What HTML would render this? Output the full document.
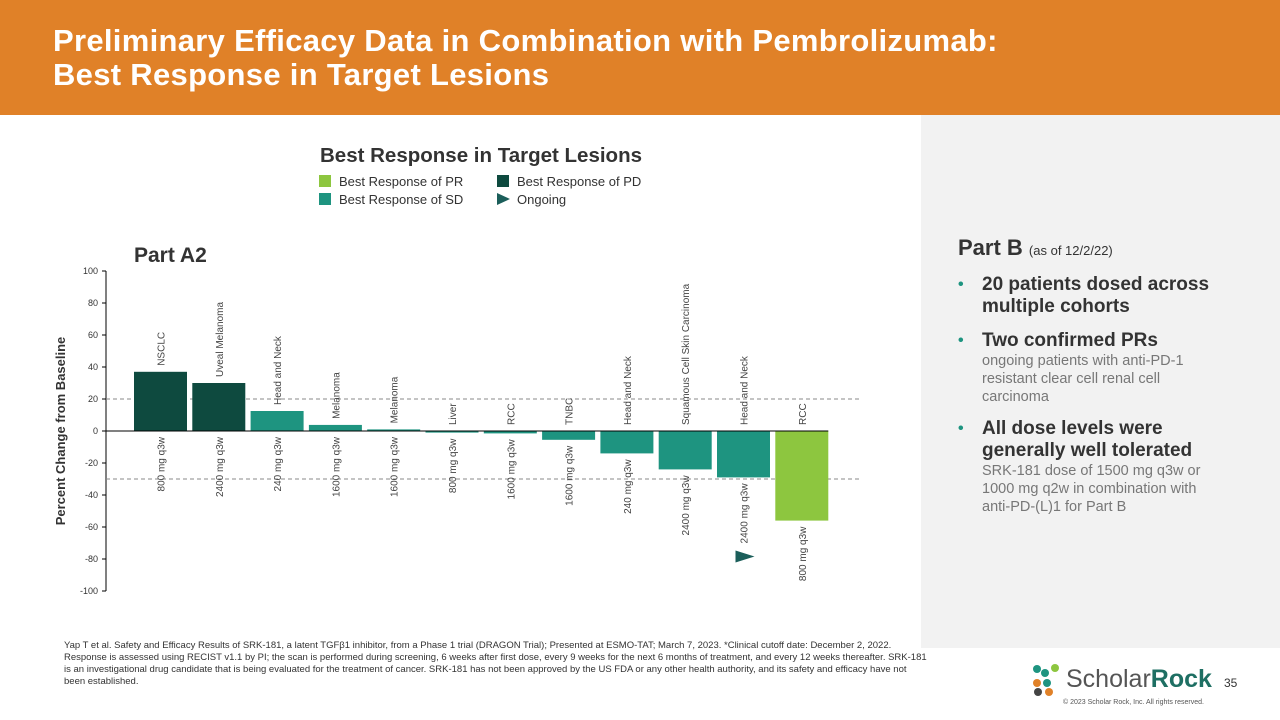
<!DOCTYPE html>
<html><head><meta charset="utf-8"><style>
body{margin:0;width:1280px;height:720px;overflow:hidden;background:#fff;font-family:"Liberation Sans",sans-serif;position:relative}
.hdr{position:absolute;left:0;top:0;width:1280px;height:115px;background:#e08128}
.hdr h1{position:absolute;left:53px;top:24px;margin:0;color:#fff;font-size:31px;line-height:34px;font-weight:bold;letter-spacing:0.3px}
.side{position:absolute;left:921px;top:115px;width:359px;height:533px;background:#f2f2f2}
.pb{position:absolute;left:958px;top:235px;font-size:22px;font-weight:bold;color:#333}
.pb span{font-size:13px;font-weight:normal}
ul{position:absolute;left:958px;top:274px;margin:0;padding:0;list-style:none;width:262px}
li{position:relative;padding-left:24px;margin-bottom:12px;color:#333;font-weight:bold;font-size:19px;line-height:22px}
li:before{content:"•";position:absolute;left:0;color:#1e9480;font-size:16px}
li small{display:block;font-weight:normal;font-size:14.5px;line-height:18px;color:#777}
.foot{position:absolute;left:64px;top:640px;width:866px;font-size:9.5px;line-height:12px;color:#333}
</style></head><body>
<div class="hdr"><h1>Preliminary Efficacy Data in Combination with Pembrolizumab:<br>Best Response in Target Lesions</h1></div>
<div class="side"></div>
<div class="pb">Part B <span>(as of 12/2/22)</span></div>
<ul>
<li>20 patients dosed across multiple cohorts</li>
<li>Two confirmed PRs<small>ongoing patients with anti-PD-1 resistant clear cell renal cell carcinoma</small></li>
<li>All dose levels were generally well tolerated<small>SRK-181 dose of 1500 mg q3w or 1000 mg q2w in combination with anti-PD-(L)1 for Part B</small></li>
</ul>
<svg id="chart" width="921" height="640" style="position:absolute;left:0;top:0" font-family="Liberation Sans, sans-serif">
<text x="481" y="162" text-anchor="middle" font-size="20.5" font-weight="bold" fill="#333">Best Response in Target Lesions</text>
<g font-size="13" fill="#333">
<rect x="319" y="175" width="12" height="12" fill="#8dc63f"/><text x="339" y="186">Best Response of PR</text>
<rect x="497" y="175" width="12" height="12" fill="#0e4a3f"/><text x="517" y="186">Best Response of PD</text>
<rect x="319" y="193" width="12" height="12" fill="#1e9480"/><text x="339" y="204">Best Response of SD</text>
<polygon points="497,193 510,199 497,205" fill="#1b5e5a"/><text x="517" y="204">Ongoing</text>
</g>
<text x="134" y="262" font-size="21" font-weight="bold" fill="#333">Part A2</text>
<text transform="translate(65,431) rotate(-90)" text-anchor="middle" font-size="13" font-weight="bold" fill="#333">Percent Change from Baseline</text>
<g id="g"></g>
</svg>
<div class="foot">Yap T et al. Safety and Efficacy Results of SRK-181, a latent TGFβ1 inhibitor, from a Phase 1 trial (DRAGON Trial); Presented at ESMO-TAT; March 7, 2023. *Clinical cutoff date: December 2, 2022. Response is assessed using RECIST v1.1 by PI; the scan is performed during screening, 6 weeks after first dose, every 9 weeks for the next 6 months of treatment, and every 12 weeks thereafter. SRK-181 is an investigational drug candidate that is being evaluated for the treatment of cancer. SRK-181 has not been approved by the US FDA or any other health authority, and its safety and efficacy have not been established.</div>
<svg width="30" height="34" style="position:absolute;left:1031px;top:663px">
<circle cx="6" cy="6" r="4" fill="#1e9480"/><circle cx="14" cy="10" r="4" fill="#1e9480"/><circle cx="24" cy="5" r="4" fill="#8dc63f"/><circle cx="6" cy="20" r="4" fill="#e08128"/><circle cx="16" cy="20" r="4" fill="#1e9480"/><circle cx="7" cy="29" r="4" fill="#444"/><circle cx="18" cy="29" r="4" fill="#e08128"/></svg>
<div style="position:absolute;left:1066px;top:665px;font-size:25px;color:#555">Scholar<b style="color:#1e6f63">Rock</b></div>
<div style="position:absolute;left:1224px;top:676px;font-size:12px;color:#333">35</div>
<div style="position:absolute;left:1063px;top:699px;font-size:7px;color:#555">© 2023 Scholar Rock, Inc. All rights reserved.</div>
<script>
const categories=["NSCLC","Uveal Melanoma","Head and Neck","Melanoma","Melanoma","Liver","RCC","TNBC","Head and Neck","Squamous Cell Skin Carcinoma","Head and Neck","RCC"];
const doses=["800 mg q3w","2400 mg q3w","240 mg q3w","1600 mg q3w","1600 mg q3w","800 mg q3w","1600 mg q3w","1600 mg q3w","240 mg q3w","2400 mg q3w","2400 mg q3w","800 mg q3w"];
const values=[37,30,12.5,3.8,1,-1,-1.5,-5.5,-14,-24,-29,-56];
const responses=["PD","PD","SD","SD","SD","SD","SD","SD","SD","SD","SD","PR"];
const ongoing=[false,false,false,false,false,false,false,false,false,false,true,false];
const yTicks=[100,80,60,40,20,0,-20,-40,-60,-80,-100];
const refLines=[20,-30];
const colors={PD:"#0e4a3f",SD:"#1e9480",PR:"#8dc63f"};
const NS="http://www.w3.org/2000/svg";
const g=document.getElementById('g');
const y=v=>431-v*1.6;
const x0=134,step=58.3,bw=53;
const xb=i=>x0+i*step;
function mk(t,a,txt){const e=document.createElementNS(NS,t);for(const k in a)e.setAttribute(k,a[k]);if(txt!=null)e.textContent=txt;g.appendChild(e);return e;}
let ax=mk('line',{x1:106,x2:106,y1:y(100),y2:y(-100),stroke:'#000','stroke-width':1});


yTicks.forEach(t=>{
 let l=mk('line',{x1:102,x2:106,y1:y(t),y2:y(t),stroke:'#000'});
 
 
 let tx=mk('text',{x:98,y:y(t)+3,'text-anchor':'end','font-size':9,fill:'#333'},t);
 
 
});
refLines.forEach(r=>{
 let l=mk('line',{x1:106,x2:862,y1:y(r),y2:y(r),stroke:'#888','stroke-dasharray':'4,3'});
 
 
});
values.forEach((v,i)=>{
 const bx=xb(i),top=Math.min(y(v),y(0)),h=Math.max(Math.abs(y(v)-y(0)),1);
 let r=mk('rect',{x:bx,y:top,width:bw,height:h,fill:colors[responses[i]]});
 
 
 const cx=bx+bw/2+4;
 const cy=v>0?y(v)-6:y(0)-6;
 let c=mk('text',{transform:`translate(${cx},${cy}) rotate(-90)`,'font-size':10,fill:'#444'},categories[i]);
 
 
 const dy=v>0?y(0)+6:y(v)+6;
 let d=mk('text',{transform:`translate(${cx},${dy}) rotate(-90)`,'font-size':10,fill:'#444','text-anchor':'end'},doses[i]);
 
 
 if(ongoing[i]){
  const ty=y(v)+6+d.getComputedTextLength()+13;
  let p=mk('polygon',{points:`${cx-12},${ty-6} ${cx+7},${ty} ${cx-12},${ty+6}`,fill:'#1b5e5a'});
  
  
 }
});
let z=mk('line',{x1:106,x2:xb(11)+bw,y1:y(0),y2:y(0),stroke:'#000'});


</script>
</body></html>
